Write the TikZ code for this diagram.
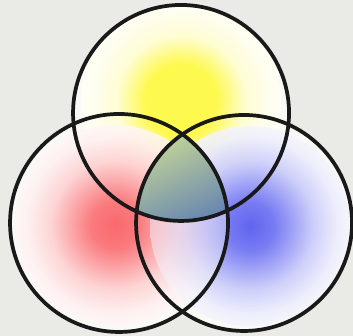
\documentclass[tikz,border=0pt]{standalone}
\usepackage{tikz}
\definecolor{paperGray}{RGB}{234, 235, 230}
\definecolor{rimWhite}{RGB}{249, 249, 246}
\definecolor{blobYellow}{RGB}{255, 250, 50}
\definecolor{blobRed}{RGB}{250, 80, 85}
\definecolor{blobBlue}{RGB}{70, 75, 240}
\definecolor{midGreen}{RGB}{200, 216, 150}
\definecolor{midBlue}{RGB}{100, 132, 178}
\definecolor{ringBlack}{RGB}{25, 25, 25}

% radius of the shaded disc = 25bp
\pgfdeclareradialshading{yellowblob}{\pgfpoint{0bp}{0bp}}{color(0bp)=(blobYellow); color(9bp)=(blobYellow); color(16bp)=(blobYellow!25!white); color(22bp)=(blobYellow!8!white); color(25bp)=(blobYellow!5!white); color(50bp)=(blobYellow!5!white)}
\pgfdeclareradialshading{redblob}{\pgfpoint{0bp}{0bp}}{color(0bp)=(blobRed); color(6bp)=(blobRed!88!white); color(16bp)=(blobRed!28!white); color(22bp)=(blobRed!9!white); color(25bp)=(blobRed!5!white); color(50bp)=(blobRed!5!white)}
\pgfdeclareradialshading{blueblob}{\pgfpoint{0bp}{0bp}}{color(0bp)=(blobBlue); color(6bp)=(blobBlue!85!white); color(16bp)=(blobBlue!30!white); color(22bp)=(blobBlue!10!white); color(25bp)=(blobBlue!6!white); color(50bp)=(blobBlue!6!white)}

\tikzset{
  ring/.style={draw=ringBlack, line width=3pt},
  blob/.style={fill opacity=0.85},
  softblob/.style={fill opacity=0.5}
}

\begin{document}
\begin{tikzpicture}[scale=0.0283]
        % Paper
        \fill[paperGray] (0,0) rectangle (353,336);
        \useasboundingbox (0,0) rectangle (353,336);

        % Centres
        \coordinate (top) at (181,223);
        \coordinate (left) at (119,113);
        \coordinate (right) at (244,113);

        % White discs
        \fill[rimWhite] (top) circle (108);
        \fill[rimWhite] (left) circle (109);
        \fill[rimWhite] (right) circle (108);

        % Yellow
        \begin{scope}
          \clip (top) circle (108);
          \shade[shading=yellowblob, blob] (181,236) circle (100);
        \end{scope}

        % Red
        \begin{scope}
          \clip (left) circle (109);
          \shade[shading=redblob, blob] (115,111) circle (100);
        \end{scope}

        % Blue, outside the red disc
        \begin{scope}[even odd rule]
          \clip (right) circle (108);
          \clip (0,0) rectangle (353,336) (left) circle (109);
          \shade[shading=blueblob, blob] (250,110) circle (100);
        \end{scope}

        % Blue over red
        \begin{scope}
          \clip (right) circle (108);
          \clip (left) circle (109);
          \shade[shading=blueblob, softblob] (250,110) circle (100);
        \end{scope}

        % Middle
        \begin{scope}
          \clip (top) circle (108);
          \clip (left) circle (109);
          \clip (right) circle (108);
          \shade[top color=midGreen, bottom color=midBlue, shading angle=25] (130,110) rectangle (235,205);
        \end{scope}

        % Rings
        \draw[ring] (top) circle (108);
        \draw[ring] (left) circle (109);
        \draw[ring] (right) circle (108);
      \end{tikzpicture}
\end{document}
